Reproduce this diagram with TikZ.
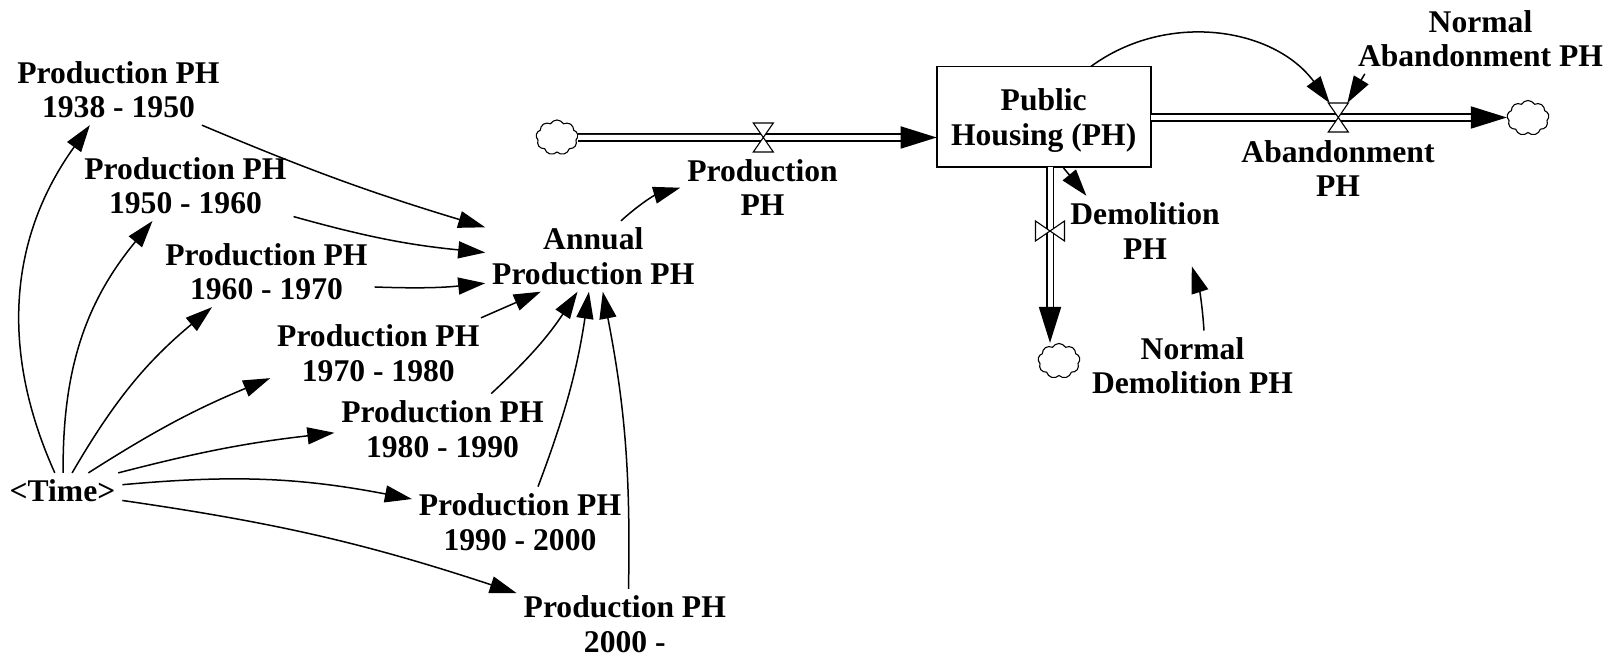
\documentclass[tikz,border=0pt]{standalone}
\usepackage{fontspec}
\setmainfont{Liberation Serif}
\usetikzlibrary{arrows.meta,shapes.symbols}
\begin{document}
\begin{tikzpicture}[x=1pt,y=1pt,
  varfont/.style={font=\fontsize{31.6}{34.5}\selectfont\bfseries},
  var/.style={varfont, align=center, inner sep=7pt, outer sep=0pt},
  stock/.style={varfont, align=center, draw, line width=1.6pt, inner sep=0pt,
    outer sep=0pt, minimum width=214pt, minimum height=100.6pt, text depth=0pt},
  link/.style={line width=1.5pt, -{Triangle[length=27pt,width=17pt]}},
  pipe/.style={double, double distance=5pt, line width=1.8pt},
  pipehead/.style={-{Triangle[length=36pt,width=22pt]}},
  valveH/.style={minimum width=20pt, minimum height=29pt, inner sep=0pt, outer sep=0pt},
  valveV/.style={minimum width=29pt, minimum height=20pt, inner sep=0pt, outer sep=0pt},
  bowtie/.style={draw, fill=white, line width=1.1pt, line join=miter},
  sink/.style={cloud, cloud puffs=9, cloud puff arc=120, aspect=1.2, draw,
    line width=1.1pt, minimum width=42pt, minimum height=35pt, inner sep=0pt,
    fill=white},
]
\useasboundingbox (0,0) rectangle (1619,663);

% ---- auxiliary variables ----
\node[var] (time)  at (62.5,172)   {<Time>};
\node[var] (p1938) at (118.5,573.2) {Production PH\\1938 - 1950};
\node[var] (p1950) at (185.5,477.4) {Production PH\\1950 - 1960};
\node[var] (p1960) at (266.5,391.2) {Production PH\\1960 - 1970};
\node[var] (p1970) at (378.3,309.8) {Production PH\\1970 - 1980};
\node[var] (p1980) at (442.5,234)   {Production PH\\1980 - 1990};
\node[var] (p1990) at (520,141)     {Production PH\\1990 - 2000};
\node[var] (p2000) at (624.8,38.8)  {Production PH\\2000 -};
\node[var] (annual) at (593.3,406.7) {Annual\\Production PH};

% ---- stock, flows, sources and sinks ----
\node[stock] (ph) at (1043.7,546) {Public\\Housing (PH)};

\node[sink]   (cprod) at (557,525.5) {};
\node[valveH] (vprod) at (763.3,525.5) {};
\node[var]    (prodlbl) at (762.5,475.3) {Production\\PH};

\node[sink]   (cab) at (1528,545) {};
\node[valveH] (vab) at (1338.3,545.5) {};
\node[var]    (abandlbl) at (1338,494.5) {Abandonment\\PH};

\node[sink]   (cdem) at (1059,302) {};
\node[valveV] (vdem) at (1050,432) {};
\node[var]    (demollbl) at (1145,432) {Demolition\\PH};

\node[var] (normab)  at (1480.5,624.5) {Normal\\Abandonment PH};
\node[var] (normdem) at (1192.5,297.1) {Normal\\Demolition PH};

% pipes
\draw[pipe] (cprod.east) -- (vprod.center);
\draw[pipe,pipehead] (vprod.center) -- (vprod -| ph.west);
\draw[pipe] (vab -| ph.east) -- (vab.center);
\draw[pipe,pipehead] (vab.center) -- (vab -| cab.west);
\draw[pipe] (vdem |- ph.south) -- (vdem.center);
\draw[pipe,pipehead] (vdem.center) -- (vdem |- cdem.north);

% valves
\draw[bowtie] (vprod.north west) -- (vprod.north east) -- (vprod.south west) -- (vprod.south east) -- cycle;
\draw[bowtie] (vab.north west) -- (vab.north east) -- (vab.south west) -- (vab.south east) -- cycle;
\draw[bowtie] (vdem.north west) -- (vdem.south west) -- (vdem.north east) -- (vdem.south east) -- cycle;

% ---- information links ----
\draw[link] (time.113) to[bend left=30] (p1938.231);
\draw[link] (time.88)  to[bend left=20] (p1950.227);
\draw[link] (time.62)  to[bend left=10] (p1960.213);
\draw[link] (time.35)  to[bend left=5]  (p1970.193);
\draw[link] (time.18)  to[bend left=4]  (p1980.182);
\draw[link] (time.6)   to[bend left=8]  (p1990.168);
\draw[link] (time.351) to[bend left=5]  (p2000.164);

\draw[link] (p1938.337) to[bend right=3] (annual.165);
\draw[link] (p1950.344) to[bend right=5] (annual.178);
\draw[link] (p1960.352) to[bend right=4] (annual.194);
\draw[link] (p1970.19)  --               (annual.214);
\draw[link] (p1980.36)  to[bend right=7] (annual.246);
\draw[link] (p1990.63)  to[bend right=6] (annual.263);
\draw[link] (p2000.84)  to[bend right=6] (annual.285);

\draw[link] (annual.52) to[bend left=13] (prodlbl.180);

\draw[link] (ph.291) -- (demollbl.149);
\draw[link] (ph.47) to[bend left=45] (vab.121);
\draw[link] (normab.197) -- (vab.58);
\draw[link] (normdem.72) to[bend right=7] (demollbl.323);
\end{tikzpicture}
\end{document}
